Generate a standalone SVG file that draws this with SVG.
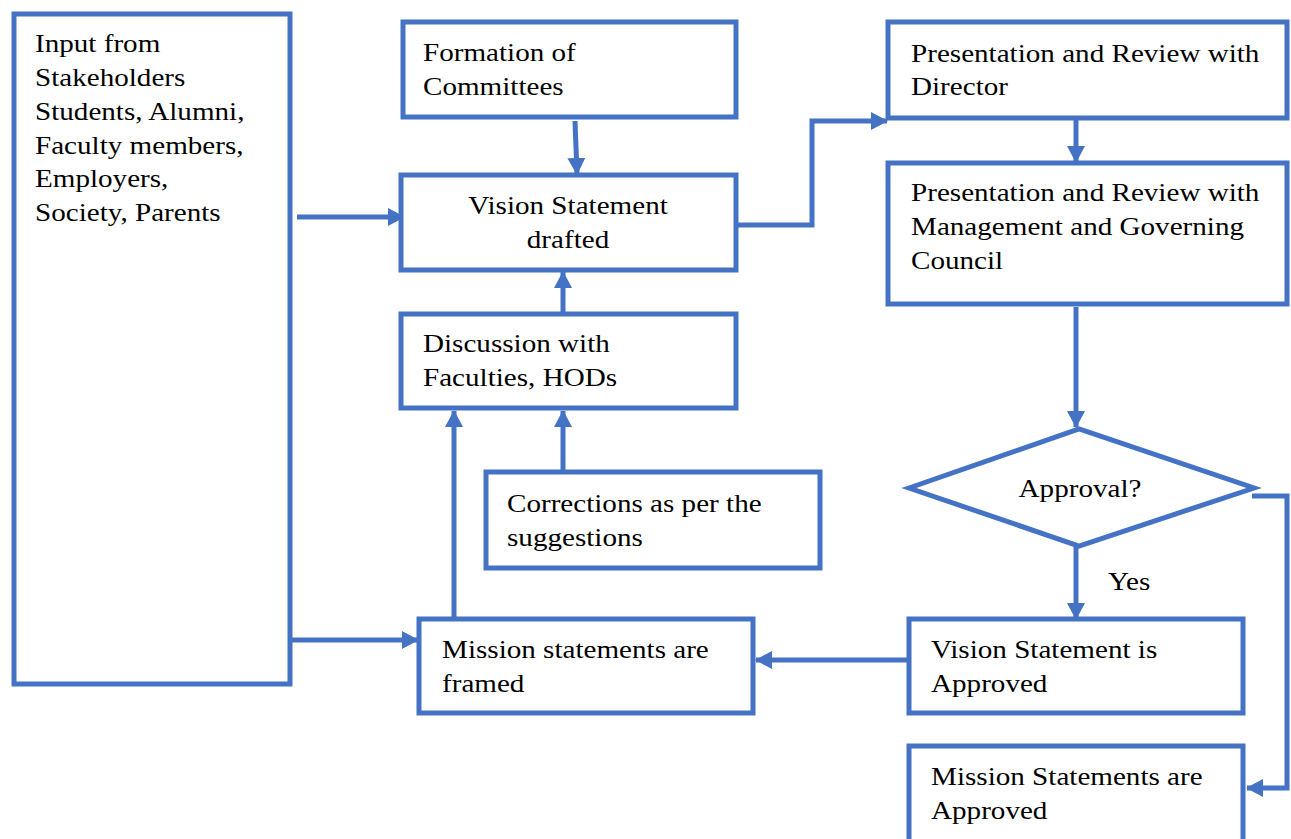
<svg xmlns="http://www.w3.org/2000/svg" width="1291" height="839" viewBox="0 0 1291 839">
<style>
.box{fill:#fff;stroke:#4472C4;stroke-width:5}
.ln{fill:none;stroke:#4472C4;stroke-width:5;marker-end:url(#ah)}
.ln0{fill:none;stroke:#4472C4;stroke-width:5}
text{font-family:"Liberation Serif","Times New Roman",serif;font-size:26px;fill:#000}
.c{text-anchor:middle}
</style>
<defs>
<marker id="ah" markerUnits="userSpaceOnUse" markerWidth="17" markerHeight="18" refX="16" refY="9" orient="auto">
<path d="M0,0 L17,9 L0,18 z" fill="#4472C4"/>
</marker>
</defs>
<rect width="1291" height="839" fill="#fff"/>
<g id="connectors">
<line class="ln" x1="297" y1="217" x2="404" y2="217"/>
<line class="ln" x1="575" y1="121" x2="577" y2="174"/>
<polyline class="ln" points="738,225 812,225 812,121 887,121"/>
<line class="ln" x1="1076" y1="120" x2="1076" y2="162"/>
<line class="ln" x1="1076" y1="307" x2="1076" y2="427"/>
<line class="ln" x1="1076" y1="546" x2="1076" y2="619"/>
<polyline class="ln" points="1252,496 1287,496 1287,788 1247,788"/>
<line class="ln" x1="911" y1="660" x2="756" y2="660"/>
<line class="ln" x1="454" y1="618" x2="454" y2="411"/>
<line class="ln" x1="563" y1="471" x2="563" y2="411"/>
<line class="ln" x1="563" y1="313" x2="563" y2="272"/>
<line class="ln" x1="292" y1="640" x2="418" y2="640"/>
</g>
<g id="input">
<rect class="box" x="14" y="14" width="276" height="670"/>
<g transform="translate(35,0) scale(1.12,1)">
<text x="0" y="52">Input from</text>
<text x="0" y="86">Stakeholders</text>
<text x="0" y="120">Students, Alumni,</text>
<text x="0" y="154">Faculty members,</text>
<text x="0" y="187">Employers,</text>
<text x="0" y="221">Society, Parents</text>
</g>
</g>
<g id="formation">
<rect class="box" x="403" y="22" width="333" height="95"/>
<g transform="translate(423,0) scale(1.12,1)">
<text x="0" y="61">Formation of</text>
<text x="0" y="95">Committees</text>
</g>
</g>
<g id="vision">
<rect class="box" x="401" y="175" width="335" height="95"/>
<g transform="translate(568,0) scale(1.12,1)">
<text class="c" x="0" y="214">Vision Statement</text>
<text class="c" x="0" y="248">drafted</text>
</g>
</g>
<g id="discussion">
<rect class="box" x="401" y="314" width="335" height="94"/>
<g transform="translate(423,0) scale(1.12,1)">
<text x="0" y="352">Discussion with</text>
<text x="0" y="386">Faculties, HODs</text>
</g>
</g>
<g id="corrections">
<rect class="box" x="486" y="472" width="334" height="96"/>
<g transform="translate(507,0) scale(1.12,1)">
<text x="0" y="512">Corrections as per the</text>
<text x="0" y="546">suggestions</text>
</g>
</g>
<g id="mission-framed">
<rect class="box" x="419" y="619" width="334" height="94"/>
<g transform="translate(442,0) scale(1.12,1)">
<text x="0" y="658">Mission statements are</text>
<text x="0" y="692">framed</text>
</g>
</g>
<g id="director">
<rect class="box" x="888" y="22" width="399" height="96"/>
<g transform="translate(911,0) scale(1.12,1)">
<text x="0" y="62">Presentation and Review with</text>
<text x="0" y="95">Director</text>
</g>
</g>
<g id="management">
<rect class="box" x="888" y="163" width="399" height="141"/>
<g transform="translate(911,0) scale(1.12,1)">
<text x="0" y="201">Presentation and Review with</text>
<text x="0" y="235">Management and Governing</text>
<text x="0" y="269">Council</text>
</g>
</g>
<g id="approval">
<polygon class="box" points="909,488 1079,429 1254,488 1079,546"/>
<g transform="translate(1080,0) scale(1.12,1)">
<text class="c" x="0" y="497">Approval?</text>
</g>
</g>
<g id="yes-label">
<g transform="translate(1108,0) scale(1.12,1)">
<text x="0" y="590">Yes</text>
</g>
</g>
<g id="vision-approved">
<rect class="box" x="909" y="619" width="334" height="94"/>
<g transform="translate(931,0) scale(1.12,1)">
<text x="0" y="658">Vision Statement is</text>
<text x="0" y="692">Approved</text>
</g>
</g>
<g id="mission-approved">
<rect class="box" x="909" y="746" width="334" height="100"/>
<g transform="translate(931,0) scale(1.12,1)">
<text x="0" y="785">Mission Statements are</text>
<text x="0" y="819">Approved</text>
</g>
</g>
</svg>
